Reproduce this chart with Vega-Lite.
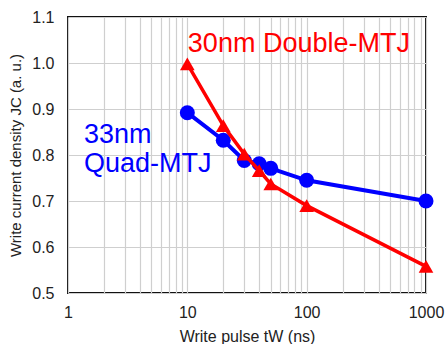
{
  "$schema": "https://vega.github.io/schema/vega-lite/v6.json",
  "width": 358,
  "height": 276,
  "autosize": {"type": "none"},
  "padding": {"left": 68, "top": 17, "right": 20, "bottom": 51},
  "background": "white",
  "config": {
    "font": "Liberation Sans",
    "view": {"stroke": "#111", "strokeWidth": 2},
    "axis": {
      "labelFont": "Liberation Sans",
      "titleFont": "Liberation Sans",
      "labelColor": "#222",
      "titleColor": "#222",
      "titleFontWeight": "normal",
      "gridColor": "#cfcfcf",
      "gridWidth": 1.2,
      "domain": false,
      "ticks": false
    }
  },
  "datasets": {
    "pts": [
      {"pulse": 10, "jc": 0.892, "series": "Quad"},
      {"pulse": 20, "jc": 0.832, "series": "Quad"},
      {"pulse": 30, "jc": 0.788, "series": "Quad"},
      {"pulse": 40, "jc": 0.781, "series": "Quad"},
      {"pulse": 50, "jc": 0.771, "series": "Quad"},
      {"pulse": 100, "jc": 0.745, "series": "Quad"},
      {"pulse": 1000, "jc": 0.700, "series": "Quad"},
      {"pulse": 10, "jc": 0.998, "series": "Double"},
      {"pulse": 20, "jc": 0.864, "series": "Double"},
      {"pulse": 30, "jc": 0.802, "series": "Double"},
      {"pulse": 40, "jc": 0.766, "series": "Double"},
      {"pulse": 50, "jc": 0.737, "series": "Double"},
      {"pulse": 100, "jc": 0.690, "series": "Double"},
      {"pulse": 1000, "jc": 0.558, "series": "Double"}
    ],
    "labels": [
      {"pulse": 10.1, "jc": 1.023, "text": "30nm Double-MTJ", "series": "Double"},
      {"pulse": 1.36, "jc": 0.827, "text": "33nm", "series": "Quad"},
      {"pulse": 1.36, "jc": 0.764, "text": "Quad-MTJ", "series": "Quad"}
    ]
  },
  "encoding": {
    "x": {
      "field": "pulse",
      "type": "quantitative",
      "scale": {"type": "log", "domain": [1, 1000], "nice": false},
      "axis": {
        "title": "Write pulse tW (ns)",
        "values": [1,2,3,4,5,6,7,8,9,10,20,30,40,50,60,70,80,90,100,200,300,400,500,600,700,800,900,1000],
        "format": "d",
        "labelExpr": "indexof([1,10,100,1000], datum.value) >= 0 ? datum.label : ''",
        "labelFontSize": 16,
        "labelPadding": 11,
        "labelOverlap": false,
        "labelFlush": false,
        "titleFontSize": 16,
        "titlePadding": 8
      }
    },
    "y": {
      "field": "jc",
      "type": "quantitative",
      "scale": {"domain": [0.5, 1.1], "nice": false, "zero": false},
      "axis": {
        "title": "Write current density JC (a. u.)",
        "values": [0.5, 0.6, 0.7, 0.8, 0.9, 1.0, 1.1],
        "format": ".1f",
        "labelFontSize": 16,
        "labelPadding": 14,
        "titleFontSize": 15,
        "titlePadding": 8
      }
    }
  },
  "layer": [
    {
      "data": {"name": "pts"},
      "transform": [{"filter": "datum.series === 'Quad'"}],
      "mark": {"type": "line", "color": "#0000ff", "strokeWidth": 4}
    },
    {
      "data": {"name": "pts"},
      "transform": [{"filter": "datum.series === 'Quad'"}],
      "mark": {"type": "point", "shape": "circle", "filled": true, "color": "#0000ff", "opacity": 1, "size": 225}
    },
    {
      "data": {"name": "pts"},
      "transform": [{"filter": "datum.series === 'Double'"}],
      "mark": {"type": "line", "color": "#ff0000", "strokeWidth": 3.5}
    },
    {
      "data": {"name": "pts"},
      "transform": [{"filter": "datum.series === 'Double'"}],
      "mark": {"type": "point", "shape": "triangle-up", "filled": true, "color": "#ff0000", "opacity": 1, "size": 215}
    },
    {
      "data": {"name": "labels"},
      "mark": {"type": "text", "align": "left", "baseline": "alphabetic", "fontSize": 27, "font": "Liberation Sans"},
      "encoding": {
        "text": {"field": "text"},
        "color": {
          "field": "series",
          "type": "nominal",
          "scale": {"domain": ["Double", "Quad"], "range": ["#ff0000", "#0000ff"]},
          "legend": null
        }
      }
    }
  ]
}
